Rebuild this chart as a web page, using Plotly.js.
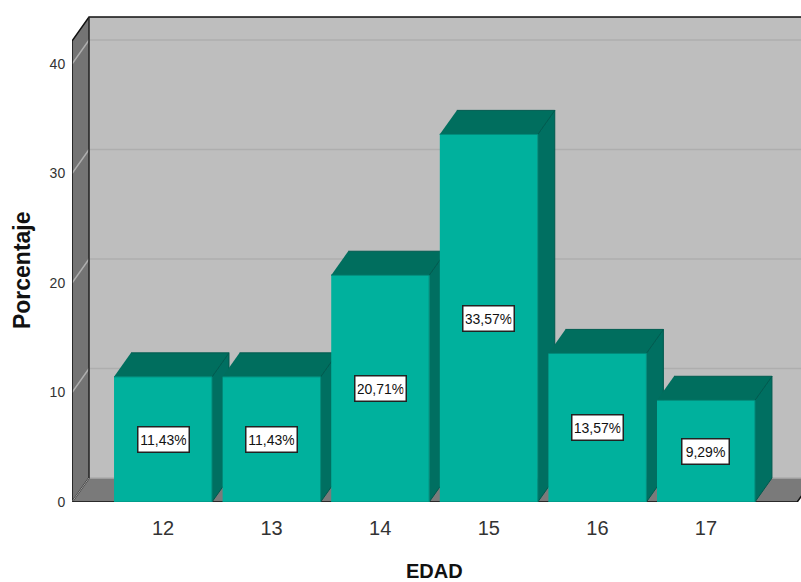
<!DOCTYPE html>
<html>
<head>
<meta charset="utf-8">
<script src="https://cdn.plot.ly/plotly-3.0.1.min.js"></script>
<style>html,body{margin:0;padding:0;background:#fff}#chart{width:801px;height:582px}</style>
</head>
<body>
<div id="chart"></div>
<script>
// Age distribution of respondents, drawn as extruded bars.
const ages = ['12', '13', '14', '15', '16', '17'];
const percentages = [11.43, 11.43, 20.71, 33.57, 13.57, 9.29];
const valueLabels = ['11,43%', '11,43%', '20,71%', '33,57%', '13,57%', '9,29%'];
const yTicks = [0, 10, 20, 30, 40];

// Extrusion and frame proportions, in axis units.
const halfBar = 0.451;
const depthX = 0.1565;
const depthY = 2.19;
const frontLeft = -0.838;
const frontRight = 5.84;
const frameTop = 42.1;

const FRONT = '#00B19D', SIDE = '#006F61', TOP = '#006E5E', EDGE = '#008A7A';
const WALL = '#BEBEBE', LEFT_WALL = '#747474', FLOOR = '#7A7A7A', GRID = '#AEAEAE';

function poly(xs, ys, fill, line, width) {
  return {
    type: 'scatter', mode: 'lines', x: xs, y: ys, fill: 'toself', fillcolor: fill,
    line: {color: line || fill, width: width === undefined ? 1 : width},
    hoverinfo: 'skip', showlegend: false
  };
}
function stroke(xs, ys, color, width) {
  return {
    type: 'scatter', mode: 'lines', x: xs, y: ys, cliponaxis: false,
    line: {color: color, width: width}, hoverinfo: 'skip', showlegend: false
  };
}

const backL = frontLeft + depthX, backR = frontRight + depthX;
const traces = [];

// Frame: back wall, left wall and floor.
traces.push(poly([backL, backR, backR, backL], [depthY, depthY, frameTop + depthY, frameTop + depthY], WALL, WALL, 0));
traces.push(poly([frontLeft, backL, backL, frontLeft], [0, depthY, frameTop + depthY, frameTop], LEFT_WALL, LEFT_WALL, 0));
traces.push(poly([frontLeft, frontRight, backR, backL], [0, 0, depthY, depthY], FLOOR, FLOOR, 0));

// Gridlines run across the left wall and along the back wall.
yTicks.slice(1).forEach(v => {
  traces.push(stroke([frontLeft, backL, backR], [v, v + depthY, v + depthY], GRID, 1.5));
});
traces.push(stroke([backL, backR], [depthY, depthY], '#ABABAB', 1.5));

// Frame outlines.
traces.push(stroke([frontLeft, frontLeft, backL, backR], [0, frameTop, frameTop + depthY, frameTop + depthY], '#111111', 1.5));
traces.push(stroke([backL, backL, frontLeft], [frameTop + depthY, depthY, 0], '#222222', 1.5));
traces.push(stroke([backL, frontLeft], [depthY, 0], '#A0A0A0', 1));
traces.push(stroke([frontLeft, frontRight, backR], [0, 0, depthY], '#111111', 1.5));

// Bars, left to right so each front covers the previous side face.
percentages.forEach((v, i) => {
  const l = i - halfBar, r = i + halfBar;
  traces.push(poly([r, r + depthX, r + depthX, r], [0, depthY, v + depthY, v], SIDE, '#00594E'));
  traces.push(poly([l, r, r + depthX, l + depthX], [v, v, v + depthY, v + depthY], TOP, '#005C50'));
  traces.push(poly([l, r, r, l], [0, 0, v, v], FRONT, EDGE));
});

const annotations = percentages.map((v, i) => ({
  x: i, y: v / 2, xref: 'x', yref: 'y', text: valueLabels[i], showarrow: false,
  font: {family: 'Liberation Sans, Arial, sans-serif', size: 14, color: '#111111'},
  bgcolor: '#FFFFFF', bordercolor: '#222222', borderwidth: 1.5, borderpad: 2,
  width: valueLabels[i].length > 5 ? 46 : 42, height: 20
}));

// Axis captions sit off-centre relative to the frame, so they are placed explicitly.
annotations.push({
  xref: 'paper', yref: 'paper', x: -0.0686, y: 0.462, text: '<b>Porcentaje</b>', textangle: -90,
  showarrow: false, xanchor: 'center', yanchor: 'middle',
  font: {family: 'Liberation Sans, Arial, sans-serif', size: 23, color: '#111111'}
});
annotations.push({
  xref: 'paper', yref: 'paper', x: 0.4966, y: -0.1375, text: '<b>EDAD</b>',
  showarrow: false, xanchor: 'center', yanchor: 'middle',
  font: {family: 'Liberation Sans, Arial, sans-serif', size: 20, color: '#111111'}
});

const layout = {
  width: 801, height: 582,
  margin: {l: 72, r: 0, t: 0, b: 80},
  paper_bgcolor: '#FFFFFF', plot_bgcolor: 'rgba(0,0,0,0)',
  font: {family: 'Liberation Sans, Arial, sans-serif', color: '#222222'},
  showlegend: false,
  xaxis: {
    type: 'linear', range: [frontLeft, 5.875], tickmode: 'array',
    tickvals: ages.map((_, i) => i), ticktext: ages,
    tickfont: {size: 20, color: '#333333'}, ticks: 'outside', ticklen: 8, tickcolor: 'rgba(0,0,0,0)',
    showgrid: false, zeroline: false, showline: false, fixedrange: true
  },
  yaxis: {
    range: [0, 45.84], tickmode: 'array', tickvals: yTicks,
    tickfont: {size: 14, color: '#333333'}, ticks: 'outside', ticklen: 3, tickcolor: 'rgba(0,0,0,0)',
    showgrid: false, zeroline: false, showline: false, fixedrange: true
  },
  annotations: annotations
};

Plotly.newPlot('chart', traces, layout, {displayModeBar: false, responsive: false});
</script>
</body>
</html>
